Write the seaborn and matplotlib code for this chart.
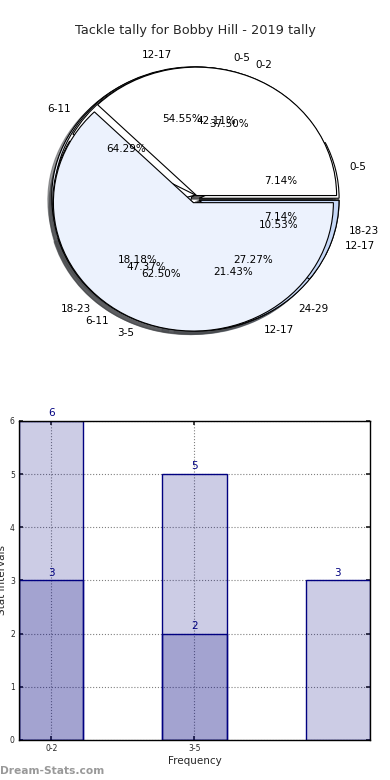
import numpy as np
import pandas as pd
import matplotlib
matplotlib.use("Agg")
import matplotlib.pyplot as plt
import seaborn as sns

sns.set_theme(style="white")
plt.rcParams['font.family'] = ['DejaVu Sans']

title = "Tackle tally for Bobby Hill - 2019 tally"

# pie data: four overlapping pies (drawn in this order)
pie_d_labels = ["0-5", "6-11", "12-17", "18-23"]
pie_d_values = [1, 9, 3, 1]
pie_a_labels = ["12-17", "18-23", "24-29"]
pie_a_values = [6, 2, 3]
pie_b_labels = ["0-5", "6-11", "12-17"]
pie_b_values = [8, 9, 2]
pie_c_labels = ["0-2", "3-5"]
pie_c_values = [3, 5]

# bar data
bar_categories = ["0-2", "3-5", ""]
bar_totals = [6, 5, 3]
bar_inner_categories = ["0-2", "3-5"]
bar_inner_values = [3, 2]

wedge_colors = ["#ffffff", "#ecf2fd", "#c6d8f7", "#c6d8f7"]

fig = plt.figure(figsize=(3.9, 7.8), dpi=100)

# Plot 1: overlapping pies (slightly squashed, not equal aspect)
ax1 = fig.add_axes([0.0513, 0.539, 0.8974, 0.4115])
for vals, labs in [(pie_d_values, pie_d_labels), (pie_a_values, pie_a_labels),
                   (pie_b_values, pie_b_labels), (pie_c_values, pie_c_labels)]:
    ax1.pie(vals, labels=labs, autopct="%.2f%%", colors=wedge_colors[:len(vals)],
            explode=[0.03] * len(vals), shadow=True, startangle=0,
            labeldistance=1.1, pctdistance=0.6,
            wedgeprops=dict(edgecolor="black", linewidth=0.8),
            textprops=dict(fontsize=7.5, color="black"))
ax1.set_xlim(-1.25, 1.25)
ax1.set_ylim(-1.25, 1.25)
ax1.set_aspect("auto")
fig.text(0.5, 0.961, title, ha="center", va="center", fontsize=9.3)

# Plot 2: overlapping bars
ax2 = fig.add_axes([0.0487, 0.0513, 0.9, 0.409])
df_tot = pd.DataFrame({"interval": bar_categories, "count": bar_totals})
df_in = pd.DataFrame({"interval": bar_inner_categories, "count": bar_inner_values})
sns.barplot(data=df_tot, x="interval", y="count", order=bar_categories, color="navy",
            saturation=1, width=0.45, edgecolor="navy", linewidth=1, ax=ax2)
sns.barplot(data=df_in, x="interval", y="count", order=bar_categories, color="navy",
            saturation=1, width=0.45, edgecolor="navy", linewidth=1, ax=ax2)
for p in ax2.patches:
    p.set_facecolor((0, 0, 0.5, 0.2))
for c in ax2.containers:
    ax2.bar_label(c, fmt="%d", color="navy", fontsize=7.5, padding=2)

ax2.set_xlim(-0.225, 2.225)
ax2.set_ylim(0, 6)
ax2.set_xticks([0, 1])
ax2.set_xticklabels(bar_categories[:2])
ax2.set_yticks(range(7))
ax2.tick_params(axis="both", labelsize=5.5, direction="in", length=3,
                top=True, right=True, bottom=True, left=True, pad=3)
ax2.grid(True, linestyle=":", color="gray", linewidth=0.8)
ax2.set_axisbelow(True)
for s in ax2.spines.values():
    s.set_color("black")
    s.set_linewidth(1)
ax2.set_xlabel("Frequency", fontsize=7.5, labelpad=2)
ax2.set_ylabel("Stat Intervals", fontsize=7.5, labelpad=2)

fig.text(0.0, 0.012, "Dream-Stats.com", ha="left", va="center", fontsize=7.7,
         color="#999999", fontweight="bold")

fig.savefig("out.png", dpi=100)
